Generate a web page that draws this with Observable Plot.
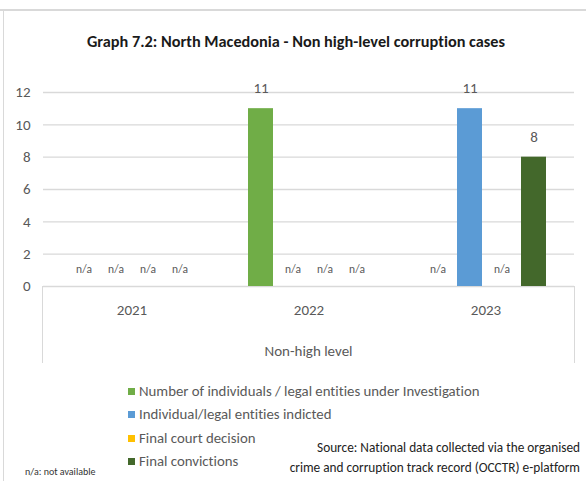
<!DOCTYPE html>
<html>
<head>
<meta charset="utf-8">
<script src="https://cdn.jsdelivr.net/npm/d3@7"></script>
<script src="https://cdn.jsdelivr.net/npm/@observablehq/plot@0.6"></script>
<style>
  html, body { margin: 0; padding: 0; background: #fff; }
  #wrap { position: relative; width: 586px; height: 481px; overflow: hidden; font-family: Carlito, "Liberation Sans Narrow", "Open Sans", sans-serif; font-variant-ligatures: none; }
  #wrap svg { position: absolute; left: 0; top: 0; font-variant-ligatures: none; }
  .abs { position: absolute; white-space: nowrap; }
  #frameTop { position: absolute; left: 0; top: 9px; width: 586px; height: 2px; background: #d9d9d9; }
  #frameLeft { position: absolute; left: 3px; top: 10px; width: 1px; height: 471px; background: #d9d9d9; }
  #box { position: absolute; left: 42px; top: 286px; width: 531px; height: 77px; border-left: 1.5px solid #d9d9d9; border-right: 1.5px solid #d9d9d9; }
  #title { left: 0; width: 592px; text-align: center; top: 31px; font-size: 16.3px; font-weight: bold; color: #1a1a1a; }
  #group { left: 43px; width: 531px; text-align: center; top: 342px; font-size: 15px; color: #595959; }
  .leg { left: 128px; font-size: 14.8px; color: #595959; line-height: 18px; }
  .leg span.sw { display: inline-block; width: 7px; height: 7px; margin-right: 4px; vertical-align: 1px; }
  #note { left: 25px; top: 465px; font-size: 10px; color: #333; }
  #source { right: 6px; top: 438px; font-size: 13.3px; color: #222; text-align: right; line-height: 20px; }
</style>
</head>
<body>
<div id="wrap"></div>
<script>
const years = ["2021", "2022", "2023"];
const series = [
  "Number of individuals / legal entities under Investigation",
  "Individual/legal entities indicted",
  "Final court decision",
  "Final convictions"
];
const values2021 = [null, null, null, null];
const values2022 = [11, null, null, null];
const values2023 = [null, 11, null, 8];
const colors = ["#70AD47", "#5B9BD5", "#FFC000", "#43682B"];
const yTicks = [0, 2, 4, 6, 8, 10, 12];
const groupLabel = "Non-high level";
const titleText = "Graph 7.2: North Macedonia - Non high-level corruption cases";
const noteText = "n/a: not available";
const sourceLines = ["Source: National data collected via the organised", "crime and corruption track record (OCCTR) e-platform"];

const valuesByYear = [values2021, values2022, values2023];
const rows = [];
years.forEach((yr, i) => series.forEach((s, j) => rows.push({year: yr, series: s, value: valuesByYear[i][j]})));
const present = rows.filter(d => d.value != null);
const missing = rows.filter(d => d.value == null);

const wrap = document.getElementById("wrap");

const chart = Plot.plot({
  width: 586,
  height: 481,
  marginTop: 92,
  marginBottom: 195,
  marginLeft: 43,
  marginRight: 12,
  style: {color: "#595959", fontFamily: 'Carlito, "Liberation Sans Narrow", "Open Sans", sans-serif', background: "transparent"},
  fx: {domain: years, padding: 0},
  x: {domain: series, paddingInner: 0.22, paddingOuter: 0.875},
  y: {domain: [0, 12]},
  color: {domain: series, range: colors},
  marks: [
    Plot.gridY(yTicks.filter(t => t > 0), {stroke: "#d9d9d9", strokeOpacity: 1, strokeWidth: 1.4}),
    Plot.ruleY([0], {stroke: "#d9d9d9", strokeWidth: 1.5}),
    Plot.barY(present, {fx: "year", x: "series", y: "value", fill: "series"}),
    Plot.text(present, {fx: "year", x: "series", y: "value", text: d => String(d.value), dy: -20, fontSize: 15, fill: "#595959"}),
    Plot.text(missing, {fx: "year", x: "series", y: () => 0, text: () => "n/a", dy: -17, fontSize: 11.5, fill: "#595959"}),
    Plot.axisY({ticks: yTicks, tickSize: 0, tickPadding: 13, fontSize: 15, label: null, facetAnchor: "left"}),
    Plot.axisFx({anchor: "bottom", tickSize: 0, tickPadding: 18, fontSize: 15, label: null}),
    Plot.axisX({ticks: [], label: null})
  ]
});
wrap.appendChild(chart);

function add(html, id, cls) {
  const d = document.createElement("div");
  if (id) d.id = id;
  d.className = cls || "";
  d.innerHTML = html;
  wrap.appendChild(d);
  return d;
}
add("", "frameTop");
add("", "frameLeft");
add("", "box");
const t = add("", "title", "abs"); t.textContent = titleText;
const g = add("", "group", "abs"); g.textContent = groupLabel;
const legTops = [382, 405, 429, 452];
series.forEach((s, i) => {
  const d = add("", null, "abs leg");
  d.style.top = legTops[i] + "px";
  const sw = document.createElement("span"); sw.className = "sw"; sw.style.background = colors[i];
  d.appendChild(sw);
  d.appendChild(document.createTextNode(s));
});
const n = add("", "note", "abs"); n.textContent = noteText;
const src = add("", "source", "abs"); src.innerHTML = sourceLines.join("<br>");
</script>
</body>
</html>
